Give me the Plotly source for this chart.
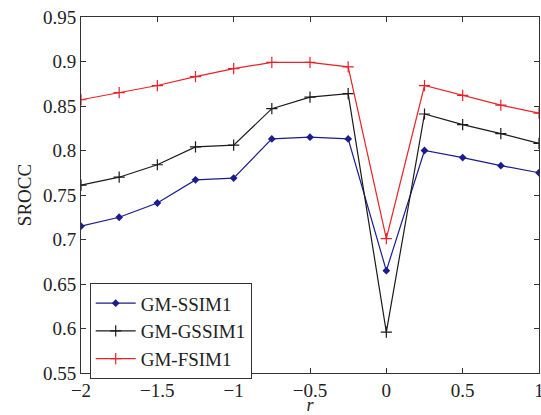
import plotly.graph_objects as go

r_vals = [-2, -1.75, -1.5, -1.25, -1, -0.75, -0.5, -0.25, 0, 0.25, 0.5, 0.75, 1]
gm_ssim1 = [0.715, 0.725, 0.741, 0.767, 0.769, 0.813, 0.815, 0.813, 0.665, 0.800, 0.792, 0.783, 0.775]
gm_gssim1 = [0.761, 0.770, 0.784, 0.804, 0.806, 0.847, 0.860, 0.864, 0.596, 0.841, 0.829, 0.819, 0.808]
gm_fsim1 = [0.857, 0.865, 0.873, 0.883, 0.892, 0.899, 0.899, 0.894, 0.701, 0.873, 0.862, 0.851, 0.842]

y_ticks = [0.55, 0.6, 0.65, 0.7, 0.75, 0.8, 0.85, 0.9, 0.95]
y_ticktext = ["0.55", "0.6", "0.65", "0.7", "0.75", "0.8", "0.85", "0.9", "0.95"]
x_ticks = [-2, -1.5, -1, -0.5, 0, 0.5, 1]
x_ticktext = ["\u22122", "\u22121.5", "\u22121", "\u22120.5", "0", "0.5", "1"]

FONT = "Liberation Serif, Times New Roman, serif"

fig = go.Figure()
fig.add_trace(go.Scatter(x=r_vals, y=gm_ssim1, name="GM-SSIM1", mode="lines+markers",
                         line=dict(color="#1c1c8e", width=1.2),
                         marker=dict(symbol="diamond", size=6, color="#1c1c8e")))
fig.add_trace(go.Scatter(x=r_vals, y=gm_gssim1, name="GM-GSSIM1", mode="lines+markers",
                         line=dict(color="#1a1a1a", width=1.2),
                         marker=dict(symbol="cross-thin", size=8, line=dict(color="#1a1a1a", width=1.2))))
fig.add_trace(go.Scatter(x=r_vals, y=gm_fsim1, name="GM-FSIM1", mode="lines+markers",
                         line=dict(color="#e82228", width=1.2),
                         marker=dict(symbol="cross-thin", size=8, line=dict(color="#e82228", width=1.2))))

axis_common = dict(showline=True, linecolor="#333", linewidth=1, mirror="ticks",
                   ticks="inside", ticklen=5, tickcolor="#333", showgrid=False, zeroline=False,
                   automargin=False, ticklabeloverflow="allow",
                   tickfont=dict(family=FONT, size=19, color="#222"))

fig.update_xaxes(range=[-2, 1], tickvals=x_ticks, ticktext=x_ticktext,
                 title=dict(text="<i>r</i>", font=dict(family=FONT, size=18, color="#222"), standoff=14),
                 **axis_common)
fig.update_yaxes(range=[0.55, 0.95], tickvals=y_ticks, ticktext=y_ticktext,
                 title=dict(text="SROCC", font=dict(family=FONT, size=19, color="#222"), standoff=6),
                 **axis_common)

fig.update_layout(
    width=541, height=415,
    margin=dict(l=81, r=2, t=17, b=42),
    plot_bgcolor="white", paper_bgcolor="white",
    showlegend=True,
    legend=dict(x=0.019, y=0.252, xanchor="left", yanchor="top",
                bordercolor="#333", borderwidth=1, bgcolor="white",
                font=dict(family=FONT, size=19, color="#222"),
                tracegroupgap=0, itemwidth=40),
)

fig.write_html("out.html", config={"displayModeBar": False},
               post_script="document.body.style.margin='0';document.body.style.overflow='hidden';")
